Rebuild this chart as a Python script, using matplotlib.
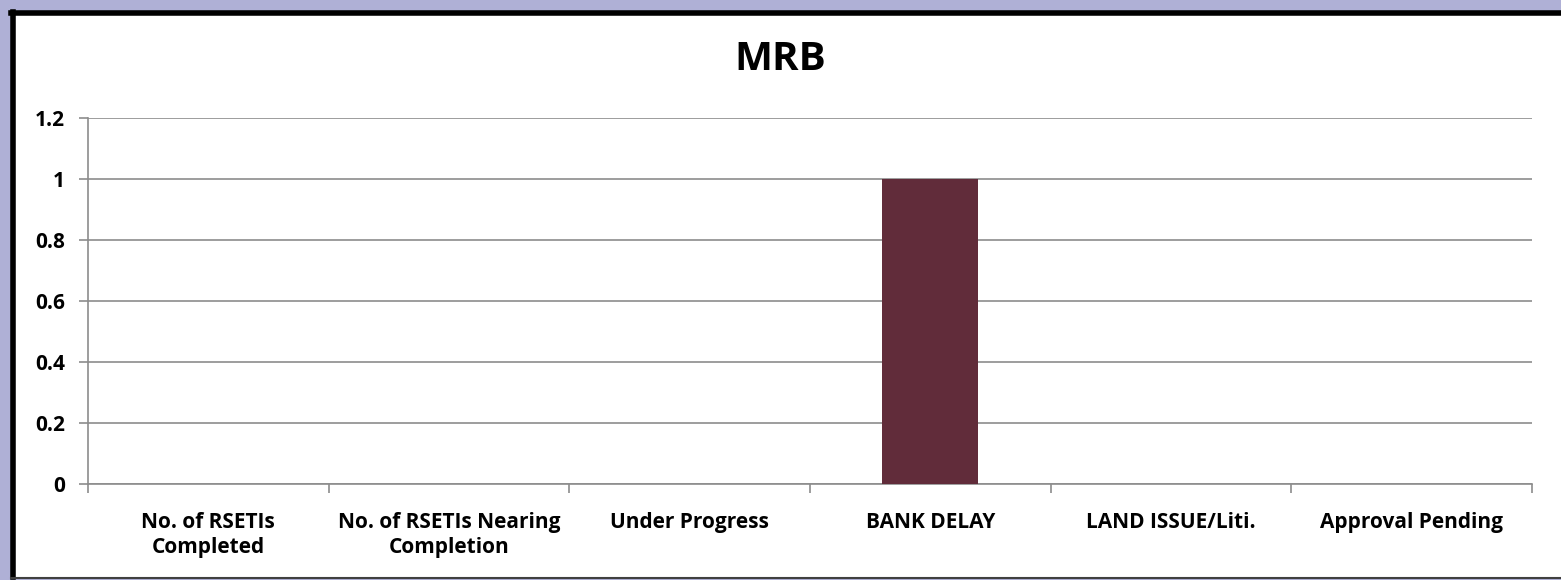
import matplotlib
matplotlib.use("Agg")
import matplotlib.pyplot as plt
from matplotlib.patches import Rectangle
from matplotlib.lines import Line2D
import numpy as np

categories = ["No. of RSETIs\nCompleted", "No. of RSETIs Nearing\nCompletion", "Under Progress",
              "BANK DELAY", "LAND ISSUE/Liti.", "Approval Pending"]
values = [0, 0, 0, 1, 0, 0]
yticks = [0, 0.2, 0.4, 0.6, 0.8, 1, 1.2]
ytick_labels = ["0", "0.2", "0.4", "0.6", "0.8", "1", "1.2"]

plt.rcParams['font.family'] = ['Open Sans', 'DejaVu Sans']

W, H = 1561, 580
fig = plt.figure(figsize=(W/100, H/100), dpi=100, facecolor="#AFB0D6")

# white chart area with frame
frame = Rectangle((12/W, 1-577/H), (W+20)/W, (577-12)/H, transform=fig.transFigure,
                  facecolor="white", edgecolor="none", zorder=-10)
fig.patches.append(frame)
fig.lines.append(Line2D([12.5/W, 12.5/W], [1-577/H, 1-12/H], transform=fig.transFigure,
                        color="black", linewidth=4, zorder=-5))
fig.lines.append(Line2D([11/W, 1.01], [1-13/H, 1-13/H], transform=fig.transFigure,
                        color="black", linewidth=4, zorder=-5))
fig.lines.append(Line2D([11/W, 1.01], [1-577.5/H, 1-577.5/H], transform=fig.transFigure,
                        color="#404040", linewidth=1.5, zorder=-5))

ax = fig.add_axes([88/W, 1-484/H, (1532-88)/W, (484-118)/H])
ax.set_facecolor("none")
x = np.arange(len(categories))
ax.bar(x, values, width=0.4, color="#612C3A", zorder=3)
ax.set_xlim(-0.5, len(categories)-0.5)
ax.set_ylim(0, 1.2)
ax.set_yticks(yticks)
ax.set_yticklabels(ytick_labels, fontsize=15, fontweight="bold")
ax.yaxis.grid(True, color="#8C8C8C", linewidth=1.2)
ax.set_axisbelow(True)
ax.set_xticks(x)
ax.set_xticklabels(categories, fontsize=15, fontweight="bold", linespacing=1.25)
ax.tick_params(axis="x", length=0, pad=20.5)
ax.set_xticks(np.arange(-0.5, len(categories)), minor=True)
ax.tick_params(axis="x", which="minor", length=6.5, width=1.2, color="#8C8C8C")
ax.tick_params(axis="y", length=6.5, width=1.2, color="#8C8C8C", pad=10)
for s in ["top", "right"]:
    ax.spines[s].set_visible(False)
for s in ["left", "bottom"]:
    ax.spines[s].set_color("#8C8C8C")
    ax.spines[s].set_linewidth(1.2)
ax.text(0.5, 1-59/H, "MRB", transform=fig.transFigure, ha="center", va="center",
        fontsize=29, fontweight="bold")

fig.savefig("out.png", dpi=100, facecolor=fig.get_facecolor())
